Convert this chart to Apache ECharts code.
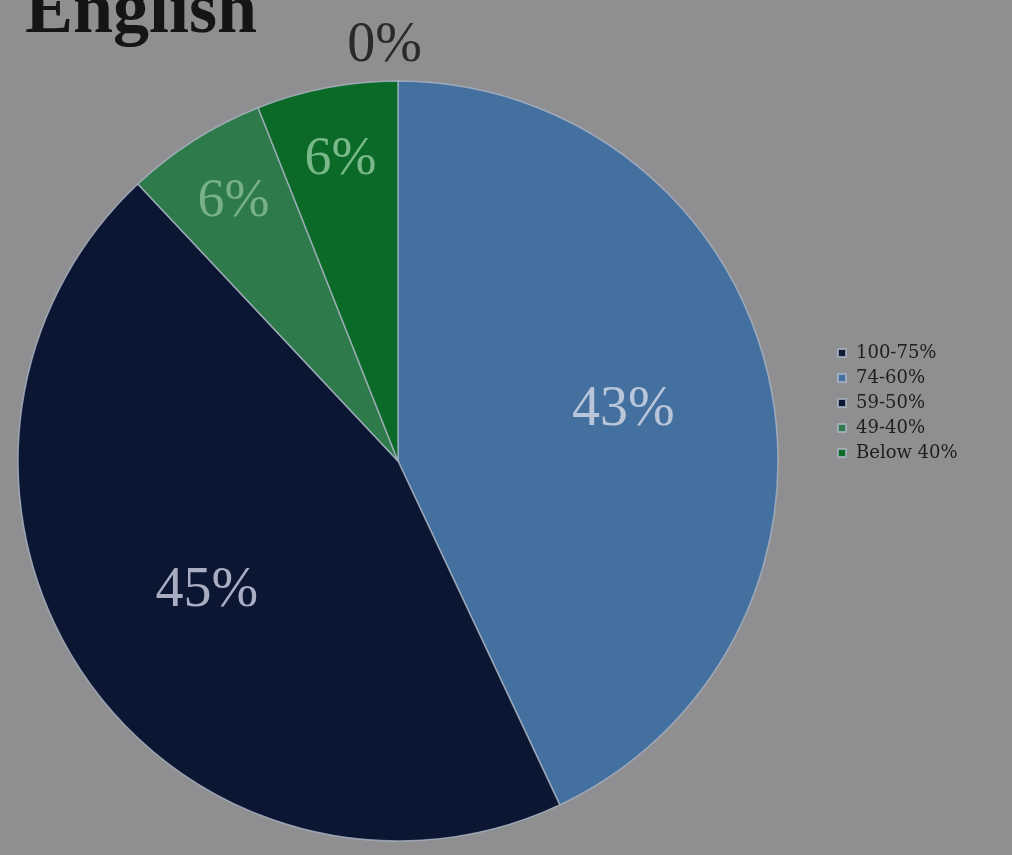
<!DOCTYPE html>
<html>
<head>
<meta charset="utf-8">
<script src="https://cdn.jsdelivr.net/npm/echarts@6/dist/echarts.min.js"></script>
<style>
  html, body { margin: 0; padding: 0; background: #8f8f91; }
  #chart { width: 1012px; height: 855px; }
</style>
</head>
<body>
<div id="chart"></div>
<script>
// ---- data ----
const categories = ['100-75%', '74-60%', '59-50%', '49-40%', 'Below 40%'];
// pie order (clockwise from 12 o'clock), same as legend order
const values = [0, 43, 45, 6, 6];
const sliceColors = ['#0f1d33', '#44709f', '#0b1632', '#2f7a4b', '#0b6a27'];
const labelColors = ['#2a2a2a', '#b9c6da', '#a9adc2', '#78b088', '#78b88a'];
const titleText = 'English';

const R = 380;
const CENTER = [398, 461];
const FONT = '"Liberation Serif", "DejaVu Serif", serif';

function mainData() {
  return values.map((v, i) => ({
    name: categories[i],
    value: v,
    itemStyle: { color: sliceColors[i] }
  }));
}

function labelData(filter, extra) {
  return values.map((v, i) => {
    const item = {
      name: categories[i],
      value: v,
      itemStyle: { color: 'rgba(0,0,0,0)', borderWidth: 0 },
      label: { show: filter(v, i), color: labelColors[i] }
    };
    if (extra) extra(item, v, i);
    return item;
  });
}

const chart = echarts.init(document.getElementById('chart'));
chart.setOption({
  backgroundColor: '#8f8f91',
  animation: false,
  title: {
    text: titleText,
    left: 20,
    top: -28,
    textStyle: { fontFamily: FONT, fontWeight: 'bold', fontSize: 72, color: '#151515' }
  },
  legend: {
    orient: 'vertical',
    left: 832,
    top: 339,
    itemWidth: 8,
    itemHeight: 8,
    itemGap: 7,
    icon: 'rect',
    data: categories,
    textStyle: { fontFamily: '"DejaVu Serif", serif', fontSize: 18, color: '#1e1e1e', padding: [0, 0, 0, 5] }
  },
  series: [
    {
      type: 'pie',
      center: CENTER,
      radius: [0, R],
      startAngle: 90,
      clockwise: true,
      silent: true,
      label: { show: false },
      labelLine: { show: false },
      itemStyle: { borderColor: 'rgba(170,180,196,0.8)', borderWidth: 1.5 },
      data: mainData()
    },
    {
      // transparent ring carrying the large-slice labels
      type: 'pie',
      center: CENTER,
      radius: [R * 0.2, R],
      startAngle: 90,
      silent: true,
      legendHoverLink: false,
      label: {
        position: 'inside',
        fontFamily: FONT,
        fontSize: 56,
        formatter: p => p.value + '%'
      },
      labelLine: { show: false },
      data: labelData(v => v >= 20)
    },
    {
      // transparent ring carrying the small-slice labels
      type: 'pie',
      center: CENTER,
      radius: [R * 0.6, R],
      startAngle: 90,
      silent: true,
      legendHoverLink: false,
      minShowLabelAngle: 0,
      label: {
        position: 'inside',
        fontFamily: FONT,
        fontSize: 54,
        formatter: p => p.value + '%'
      },
      labelLine: { show: false },
      data: labelData(v => v < 20, (item, v) => {
        if (v === 0) {
          item.label.position = 'outside';
          item.label.fontSize = 56;
          item.labelLine = { show: false, length: 35, length2: -29 };
        }
      })
    }
  ]
});
</script>
</body>
</html>
